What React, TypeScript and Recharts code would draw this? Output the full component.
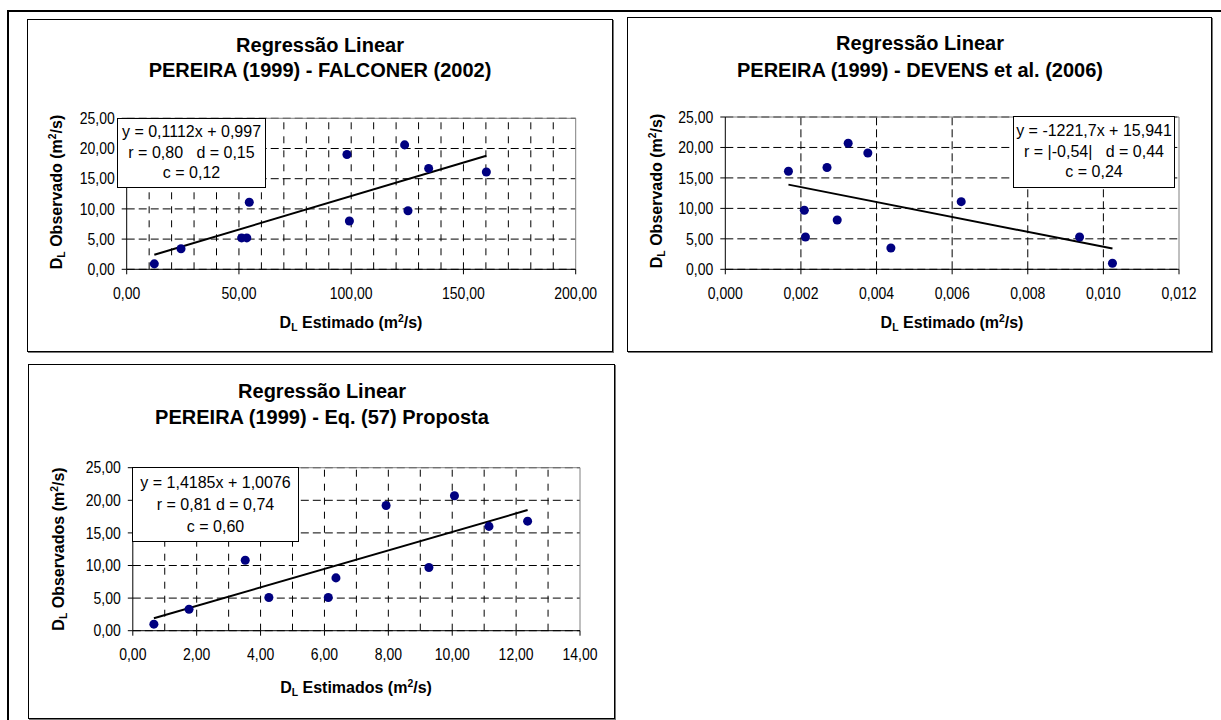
import React from "react";
import {
  ScatterChart,
  Scatter,
  XAxis,
  YAxis,
  ZAxis,
  CartesianGrid,
  ReferenceLine,
} from "recharts";

const FONT = "Arial, 'Liberation Sans', Helvetica, sans-serif";

// observed axis, shared by the three panels
const obsTicks = [0, 5, 10, 15, 20, 25];

// PEREIRA (1999) - FALCONER (2002)
const falconerEst = [12.3, 24.2, 51.2, 53.5, 54.6, 98.1, 99.2, 123.8, 125.3, 134.5, 160.2];
const falconerObs = [0.9, 3.4, 5.2, 5.2, 11.1, 19.0, 8.0, 20.6, 9.7, 16.7, 16.1];
const falconerTrend = [{ x: 12.3, y: 2.4 }, { x: 160.2, y: 18.8 }];
const falconerTicks = [0, 50, 100, 150, 200];
const falconerGrid = [10, 20, 30, 40, 50, 60, 70, 80, 90, 100, 110, 120, 130, 140, 150, 160, 170, 180, 190];

// PEREIRA (1999) - DEVENS et al. (2006)
const devensEst = [0.00167, 0.00209, 0.00212, 0.00269, 0.00296, 0.00325, 0.00377, 0.00438, 0.00624, 0.00937, 0.01024];
const devensObs = [16.1, 9.7, 5.3, 16.7, 8.1, 20.7, 19.1, 3.5, 11.1, 5.3, 1.0];
const devensTrend = [{ x: 0.00167, y: 13.9 }, { x: 0.01024, y: 3.4 }];
const devensTicks = [0, 0.002, 0.004, 0.006, 0.008, 0.01, 0.012];
const devensGrid = [0.002, 0.004, 0.006, 0.008, 0.01];

// PEREIRA (1999) - Eq. (57) Proposta
const propostaEst = [0.66, 1.76, 3.52, 4.26, 6.12, 6.36, 7.93, 9.27, 10.07, 11.15, 12.36];
const propostaObs = [1.0, 3.3, 10.8, 5.1, 5.1, 8.1, 19.2, 9.7, 20.7, 16.0, 16.8];
const propostaTrend = [{ x: 0.66, y: 1.9 }, { x: 12.36, y: 18.5 }];
const propostaTicks = [0, 2, 4, 6, 8, 10, 12, 14];
const propostaGrid = [1, 2, 3, 4, 5, 6, 7, 8, 9, 10, 11, 12, 13];

type Rect = { x: number; y: number; w: number; h: number };

type PanelSpec = {
  box: Rect;
  plot: Rect;
  title: [string, string];
  titleX: number;
  titleY: [number, number];
  est: number[];
  obs: number[];
  trend: { x: number; y: number }[];
  xTicks: number[];
  xGrid: number[];
  xGridDash: string;
  xDecimals: number;
  yLabel: string;
  yLabelPos: [number, number];
  xLabel: string;
  xLabelPos: [number, number];
  legend: Rect;
  legendLines: string[];
  legendLineHeight: number;
  legendPad: number;
};

const sub = { fontSize: "0.65em", verticalAlign: "-0.3em", lineHeight: 0 };
const sup = { fontSize: "0.65em", verticalAlign: "0.6em", lineHeight: 0 };

function Centered({ x, y, style, children }: any) {
  return (
    <div
      style={{
        position: "absolute",
        left: x,
        top: y,
        transform: "translate(-50%, -50%)",
        whiteSpace: "pre",
        fontFamily: FONT,
        color: "#000",
        ...style,
      }}
    >
      {children}
    </div>
  );
}

// tick text, a bit taller than wide like the Excel export
function XTick({ x, y, payload, fmt }: any) {
  return (
    <text
      transform={`translate(${x},${y}) scale(1,1.14)`}
      textAnchor="middle"
      dy="0.71em"
      fontSize={14}
      fontFamily={FONT}
      fill="#000"
    >
      {fmt(payload.value)}
    </text>
  );
}

function YTick({ x, y, payload, fmt }: any) {
  return (
    <text
      transform={`translate(${x},${y}) scale(1,1.14)`}
      textAnchor="end"
      dy="0.355em"
      fontSize={14}
      fontFamily={FONT}
      fill="#000"
    >
      {fmt(payload.value)}
    </text>
  );
}

function Panel({ p }: { p: PanelSpec }) {
  const YW = 60;
  const XH = 30;
  const { box, plot } = p;
  const margin = {
    top: plot.y - box.y,
    left: plot.x - box.x - YW,
    right: box.x + box.w - plot.x - plot.w,
    bottom: box.y + box.h - plot.y - plot.h - XH,
  };
  const xMax = p.xTicks[p.xTicks.length - 1];
  const data = p.est.map((x, i) => ({ x, y: p.obs[i] }));
  const fmtX = (v: number) => v.toFixed(p.xDecimals).replace(".", ",");
  const fmtY = (v: number) => v.toFixed(2).replace(".", ",");

  return (
    <>
      <div
        style={{
          position: "absolute",
          left: box.x,
          top: box.y,
          width: box.w,
          height: box.h,
          border: "1px solid #000",
          boxShadow: "1px 1px 0 #777",
          boxSizing: "border-box",
        }}
      />
      <div style={{ position: "absolute", left: box.x, top: box.y }}>
        <ScatterChart width={box.w} height={box.h} margin={margin}>
          <CartesianGrid vertical={false} stroke="#000" strokeDasharray="8 4" />
          {p.xGrid.map((v) => (
            <ReferenceLine key={v} x={v} stroke="#000" strokeDasharray={p.xGridDash} />
          ))}
          <ReferenceLine y={25} stroke="#808080" />
          <ReferenceLine x={xMax} stroke="#808080" />
          <XAxis
            type="number"
            dataKey="x"
            domain={[0, xMax]}
            ticks={p.xTicks}
            interval={0}
            height={XH}
            stroke="#000"
            tickSize={5}
            tickMargin={13}
            tick={<XTick fmt={fmtX} />}
          />
          <YAxis
            type="number"
            dataKey="y"
            domain={[0, 25]}
            ticks={obsTicks}
            interval={0}
            width={YW}
            stroke="#000"
            tickSize={5}
            tickMargin={7}
            tick={<YTick fmt={fmtY} />}
          />
          <ZAxis range={[72, 72]} />
          <ReferenceLine segment={p.trend} stroke="#000" strokeWidth={2} ifOverflow="visible" />
          <Scatter data={data} fill="#000080" isAnimationActive={false} />
        </ScatterChart>
      </div>

      <Centered x={p.titleX} y={p.titleY[0]} style={{ fontSize: 20, fontWeight: "bold" }}>
        {p.title[0]}
      </Centered>
      <Centered x={p.titleX} y={p.titleY[1]} style={{ fontSize: 20, fontWeight: "bold" }}>
        {p.title[1]}
      </Centered>

      <Centered
        x={p.yLabelPos[0]}
        y={p.yLabelPos[1]}
        style={{ fontSize: 16, fontWeight: "bold", transform: "translate(-50%, -50%) rotate(-90deg)" }}
      >
        D<span style={sub}>L</span> {p.yLabel} (m<span style={sup}>2</span>/s)
      </Centered>
      <Centered x={p.xLabelPos[0]} y={p.xLabelPos[1]} style={{ fontSize: 16, fontWeight: "bold" }}>
        D<span style={sub}>L</span> {p.xLabel} (m<span style={sup}>2</span>/s)
      </Centered>

      <div
        style={{
          position: "absolute",
          left: p.legend.x,
          top: p.legend.y,
          width: p.legend.w,
          height: p.legend.h,
          boxSizing: "border-box",
          border: "1px solid #000",
          background: "#fff",
          paddingTop: p.legendPad,
          fontFamily: FONT,
          fontSize: 16,
          lineHeight: `${p.legendLineHeight}px`,
          textAlign: "center",
          whiteSpace: "pre",
          color: "#000",
        }}
      >
        {p.legendLines.map((l) => (
          <div key={l}>{l}</div>
        ))}
      </div>
    </>
  );
}

const panels: PanelSpec[] = [
  {
    box: { x: 27, y: 19, w: 586, h: 333 },
    plot: { x: 126.7, y: 118.3, w: 449, h: 151 },
    title: ["Regressão Linear", "PEREIRA (1999) - FALCONER (2002)"],
    titleX: 320,
    titleY: [45, 70],
    est: falconerEst,
    obs: falconerObs,
    trend: falconerTrend,
    xTicks: falconerTicks,
    xGrid: falconerGrid,
    xGridDash: "7 7",
    xDecimals: 2,
    yLabel: "Observado",
    yLabelPos: [57, 192],
    xLabel: "Estimado",
    xLabelPos: [351, 323],
    legend: { x: 117, y: 118, w: 149, h: 70 },
    legendLines: ["y = 0,1112x + 0,997", "r = 0,80   d = 0,15", "c = 0,12"],
    legendLineHeight: 20.5,
    legendPad: 3,
  },
  {
    box: { x: 627, y: 17, w: 585, h: 335 },
    plot: { x: 725.3, y: 117, w: 453.7, h: 152.3 },
    title: ["Regressão Linear", "PEREIRA (1999) - DEVENS et al. (2006)"],
    titleX: 920,
    titleY: [43, 70],
    est: devensEst,
    obs: devensObs,
    trend: devensTrend,
    xTicks: devensTicks,
    xGrid: devensGrid,
    xGridDash: "8 4",
    xDecimals: 3,
    yLabel: "Observado",
    yLabelPos: [657, 191],
    xLabel: "Estimado",
    xLabelPos: [952, 323],
    legend: { x: 1013, y: 116, w: 162, h: 72 },
    legendLines: ["y = -1221,7x + 15,941", "r = |-0,54|   d = 0,44", "c = 0,24"],
    legendLineHeight: 20.5,
    legendPad: 4,
  },
  {
    box: { x: 28, y: 364, w: 587, h: 355 },
    plot: { x: 132.8, y: 467.7, w: 447.2, h: 163 },
    title: ["Regressão Linear", "PEREIRA (1999) - Eq. (57) Proposta"],
    titleX: 322,
    titleY: [391, 417],
    est: propostaEst,
    obs: propostaObs,
    trend: propostaTrend,
    xTicks: propostaTicks,
    xGrid: propostaGrid,
    xGridDash: "7 7",
    xDecimals: 2,
    yLabel: "Observados",
    yLabelPos: [59, 549],
    xLabel: "Estimados",
    xLabelPos: [356, 688],
    legend: { x: 132, y: 467, w: 167, h: 75 },
    legendLines: ["y = 1,4185x + 1,0076", "r = 0,81 d = 0,74", "c = 0,60"],
    legendLineHeight: 22,
    legendPad: 3.5,
  },
];

export default function App() {
  return (
    <div
      style={{
        position: "absolute",
        left: 0,
        top: 0,
        width: 1221,
        height: 720,
        overflow: "hidden",
        background: "#fff",
      }}
    >
      <div
        style={{
          position: "absolute",
          left: 7,
          top: 10,
          width: 1214,
          height: 710,
          borderTop: "2px solid #000",
          borderLeft: "2px solid #000",
          boxSizing: "border-box",
        }}
      />
      {panels.map((p) => (
        <Panel key={p.title[1]} p={p} />
      ))}
    </div>
  );
}
